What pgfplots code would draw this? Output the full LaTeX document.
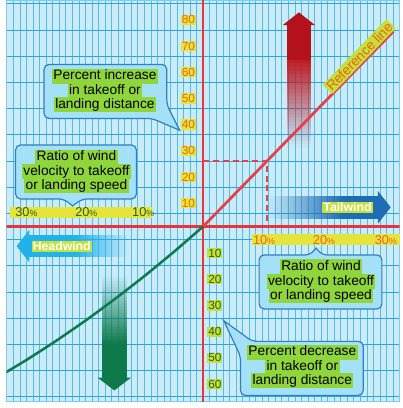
\documentclass[border=0pt]{standalone}
\usepackage{pgfplots}
\pgfplotsset{compat=1.18}
\usepackage{fontspec}
\setmainfont{Liberation Sans}

\definecolor{bgblue}{HTML}{CBEBF8}
\definecolor{gridv}{HTML}{52BDE6}
\definecolor{gridh}{HTML}{2FA4DA}
\definecolor{framec}{HTML}{7FCDEB}
\definecolor{axisred}{HTML}{E8343C}
\definecolor{refred}{HTML}{E6404A}
\definecolor{curvegreen}{HTML}{0F7A50}
\definecolor{arrred}{HTML}{B3121C}
\definecolor{arrgreen}{HTML}{0E7A4C}
\definecolor{arrblue}{HTML}{1E6CB4}
\definecolor{arrcyan}{HTML}{22B2EA}
\definecolor{boxfill}{HTML}{A4E0F6}
\definecolor{boxline}{HTML}{2D7FC6}
\definecolor{hlgreen}{HTML}{8ED63C}
\definecolor{hlyellow}{HTML}{E4E43A}
\definecolor{hlyg}{HTML}{C4E03A}
\definecolor{txtorange}{HTML}{EE6418}
\definecolor{txtgreen}{HTML}{2F5E1E}

\newcommand{\fs}[1]{\fontsize{#1}{#1}\selectfont}

% fading arrow shafts as strips of falling opacity
% #1 colour, #2 x1, #3 x2, #4 y of opaque end, #5 step in y
\newcommand{\vfade}[5]{%
  \pgfplotsinvokeforeach{0,...,23}{%
    \pgfmathsetmacro\ya{#4+##1*(#5)}%
    \pgfmathsetmacro\yb{#4+(##1+1)*(#5)}%
    \pgfmathsetmacro\op{1-(##1+0.5)/24}%
    \edef\tmp{\noexpand\fill[#1, fill opacity=\op] (axis cs:#2,\ya) rectangle (axis cs:#3,\yb);}%
    \tmp}}
% #1 colour, #2 y1, #3 y2, #4 x of opaque end, #5 step in x
\newcommand{\hfade}[5]{%
  \pgfplotsinvokeforeach{0,...,23}{%
    \pgfmathsetmacro\xa{#4+##1*(#5)}%
    \pgfmathsetmacro\xb{#4+(##1+1)*(#5)}%
    \pgfmathsetmacro\op{1-(##1+0.5)/24}%
    \edef\tmp{\noexpand\fill[#1, fill opacity=\op] (axis cs:\xa,#2) rectangle (axis cs:\xb,#3);}%
    \tmp}}

\begin{document}
\begin{tikzpicture}[
  hl/.style={fill=hlgreen, text=black, inner xsep=1.5pt, inner ysep=1pt,
    font=\fs{14}, text height=10.5pt, text depth=3pt},
  callout/.style={fill=boxfill, draw=boxline, line width=1.2pt}]
\begin{axis}[
  name=ax,
  width=400pt, height=408pt, scale only axis,
  set layers,
  xmin=-33.3333, xmax=33.3333,
  ymin=-66.75, ymax=86.25,
  axis background/.style={fill=bgblue},
  axis line style={draw=framec, line width=1.2pt},
  xtick distance=1.11111,
  ytick={-65,-55,...,85},
  xticklabels={}, yticklabels={},
  tick style={draw=none},
  grid=major,
  x grid style={draw=gridv, line width=0.5pt},
  y grid style={draw=gridh, line width=0.8pt},
]
% decorative arrows, under the lines
\begin{pgfonlayer}{pre main}
% red (up)
\fill[arrred] (axis cs:14.17,63.75) rectangle (axis cs:18.33,76.9);
\vfade{arrred!80!refred}{14.17}{18.33}{63.75}{-1.40625}
\fill[arrred] (axis cs:13.5,76.875) -- (axis cs:16.25,81.75) -- (axis cs:19.0,76.875) -- cycle;
% green (down)
\fill[arrgreen] (axis cs:-17.17,-45) rectangle (axis cs:-13.0,-57.8);
\vfade{arrgreen}{-17.17}{-13.0}{-45}{1.09375}
\fill[arrgreen] (axis cs:-17.9,-57.75) -- (axis cs:-15.08,-62.625) -- (axis cs:-12.25,-57.75) -- cycle;
% tailwind (right)
\fill[arrblue] (axis cs:24.17,3.0) rectangle (axis cs:29.7,11.625);
\hfade{arrblue}{3.0}{11.625}{24.17}{-0.5556}
\fill[arrblue] (axis cs:29.67,13.5) -- (axis cs:31.83,7.3) -- (axis cs:29.67,1.1) -- cycle;
% headwind (left)
\fill[arrcyan] (axis cs:-29.55,-3.375) rectangle (axis cs:-21.67,-11.625);
\hfade{arrcyan}{-3.375}{-11.625}{-21.67}{0.3819}
\fill[arrcyan] (axis cs:-29.5,-1.3) -- (axis cs:-31.67,-7.5) -- (axis cs:-29.5,-13.7) -- cycle;
\end{pgfonlayer}

% axes through the origin
\addplot[axisred, line width=2.4pt] coordinates {(-34,0) (34,0)};
\addplot[axisred, line width=2.4pt] coordinates {(0,-67) (0,87)};
% dashed read-off lines
\addplot[refred, line width=1.3pt, dash pattern=on 6pt off 4pt]
  coordinates {(0,25) (10.84,25) (10.84,0)};
% reference line (tailwind)
\addplot[refred, line width=2.8pt] coordinates {(0,0) (32.3,74.5)};
% headwind curve
\addplot[curvegreen, line width=2.6pt, smooth] coordinates {
  (0,0) (-2.5,-4.9) (-5,-9.75) (-7.5,-14.4) (-10,-19) (-12.5,-23.4)
  (-15,-27.75) (-17.5,-31.9) (-20,-36) (-22.5,-39.9) (-25,-43.75)
  (-27.5,-47.4) (-30,-51) (-32.5,-54.4) (-34,-56.4)
};
\end{axis}

\begin{scope}[shift={(ax.north west)}, x=1pt, y=-1pt]
% percent scales
\fill[hlyellow] (3,210) rectangle (148,221);
\fill[hlyellow] (250,238) rectangle (400,249);
\foreach \xx/\t in {20/30,81/20,139/10}
  \node[text=txtgreen, font=\fs{13}, inner sep=0pt] at (\xx,215.5) {\t{\fs{9}\%}};
\foreach \xx/\t in {262/10,323/20,386/30}
  \node[text=txtorange, font=\fs{13}, inner sep=0pt] at (\xx,243.5) {\t{\fs{9}\%}};
% distance scales
\foreach \v in {10,20,...,80}
  \node[fill=hlyellow, text=txtorange, font=\fs{12}, inner sep=1pt] at (185,{233-2.6667*\v}) {\v};
\foreach \v in {10,20,...,60}
  \node[fill=hlyg, text=txtgreen, font=\fs{12}, inner sep=1pt] at (212,{230.5+2.6667*\v}) {\v};

% arrow labels
\node[fill=hlyg, text=white, font=\bfseries\fs{12.5}, inner sep=1pt] at (347,210.5) {Tailwind};
\node[fill=hlyg, text=white, font=\bfseries\fs{12.5}, inner sep=1pt] at (56,250) {Headwind};
\node[fill=hlyg, text=txtorange, rotate=46, font=\fs{14}, inner sep=1.5pt] at (359,57) {Reference line};

% callout 1
\filldraw[callout, rounded corners=5pt] (38,65) -- (163,65) -- (163,106)
  [sharp corners] -- (176,132) [rounded corners=5pt] -- (148,120) -- (38,120) -- cycle;
\node[hl] at (100,77) {Percent increase};
\node[hl] at (100,91.5) {in takeoff or};
\node[hl] at (100,106) {landing distance};
% callout 2
\filldraw[callout, rounded corners=5pt] (9,147) -- (132,147) -- (132,202) -- (77,202)
  [sharp corners] -- (67,209) [rounded corners=5pt] -- (58,202) -- (9,202) -- cycle;
\node[hl] at (71,159.5) {Ratio of wind};
\node[hl] at (71,174) {velocity to takeoff};
\node[hl] at (71,188.5) {or landing speed};
% callout 3
\filldraw[callout, rounded corners=5pt] (257,259) -- (309,259)
  [sharp corners] -- (315,252) [rounded corners=5pt] -- (321,259) -- (382,259)
  -- (382,314) -- (257,314) -- cycle;
\node[hl] at (320,271) {Ratio of wind};
\node[hl] at (320,286) {velocity to takeoff};
\node[hl] at (320,300.5) {or landing speed};
% callout 4
\filldraw[callout, rounded corners=5pt] (238,402) -- (238,362)
  [sharp corners] -- (221,326) [rounded corners=5pt] -- (250,347) -- (363,347)
  -- (363,402) -- cycle;
\node[hl] at (301,358) {Percent decrease};
\node[hl] at (301,372.5) {in takeoff or};
\node[hl] at (301,387) {landing distance};
\end{scope}
\end{tikzpicture}
\end{document}
